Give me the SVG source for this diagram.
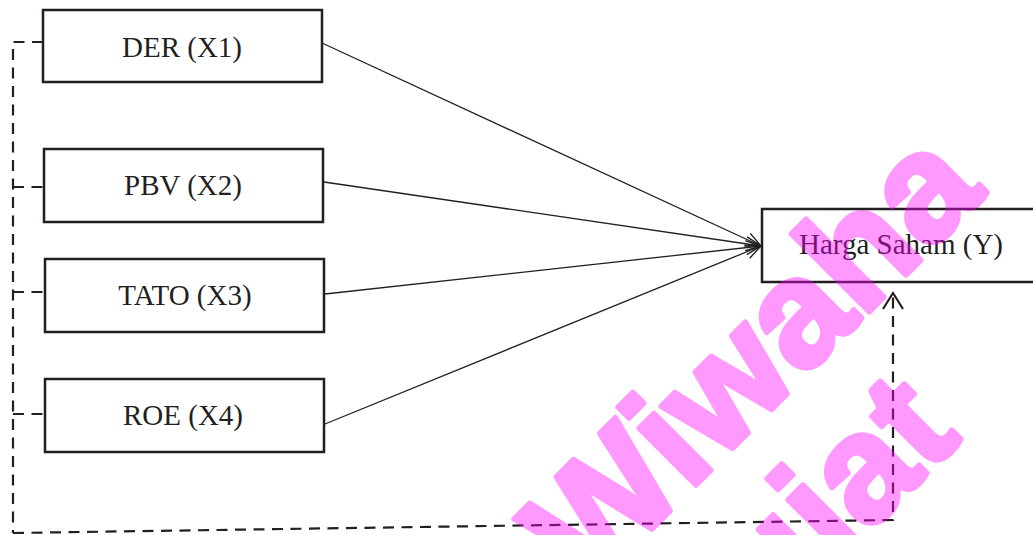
<svg xmlns="http://www.w3.org/2000/svg" width="1033" height="535" viewBox="0 0 1033 535">
  <style>
    .box { fill: #ffffff; stroke: #231f20; stroke-width: 2.5; }
    .lbl { font-family: "Liberation Serif", "Times New Roman", serif; font-size: 29px; fill: #231f20; text-anchor: middle; }
    .path { fill: none; stroke: #231f20; stroke-width: 1.3; }
    .dash { fill: none; stroke: #231f20; stroke-width: 2.2; stroke-dasharray: 11 7.5; }
    .wm { font-family: "Liberation Sans", Arial, sans-serif; font-weight: bold; font-size: 152px; fill: #ff00ff; stroke: #ff00ff; stroke-width: 5.5; stroke-linejoin: round; }
  </style>
  <defs>
    <marker id="open" markerUnits="userSpaceOnUse" markerWidth="20" markerHeight="20" refX="16" refY="8" orient="auto">
      <path d="M1,1 L16,8 L1,15" fill="none" stroke="#231f20" stroke-width="1.4"/>
    </marker>
    <marker id="openBig" markerUnits="userSpaceOnUse" markerWidth="24" markerHeight="26" refX="17" refY="11" orient="auto">
      <path d="M1,1 L17,11 L1,21" fill="none" stroke="#231f20" stroke-width="2.2"/>
    </marker>
  </defs>

  <g id="connectors">
    <line class="path" x1="322" y1="43" x2="761" y2="246" marker-end="url(#open)"/>
    <line class="path" x1="324" y1="182" x2="761" y2="246" marker-end="url(#open)"/>
    <line class="path" x1="325" y1="294" x2="761" y2="246" marker-end="url(#open)"/>
    <line class="path" x1="325" y1="424" x2="761" y2="246" marker-end="url(#open)"/>
    <!-- dashed feedback path from all X variables to Y -->
    <path class="dash" d="M43,42 H13 V533"/>
    <line class="dash" x1="13" y1="187" x2="44" y2="187"/>
    <line class="dash" x1="13" y1="292" x2="45" y2="292"/>
    <line class="dash" x1="13" y1="414" x2="45" y2="414"/>
    <path class="dash" d="M13,533 L893,520 V293" marker-end="url(#openBig)"/>
  </g>

  <g id="der">
    <rect class="box" x="43" y="10" width="279" height="72"/>
    <text class="lbl" x="182" y="57">DER (X1)</text>
  </g>
  <g id="pbv">
    <rect class="box" x="44" y="149" width="279" height="73"/>
    <text class="lbl" x="183" y="195">PBV (X2)</text>
  </g>
  <g id="tato">
    <rect class="box" x="45" y="259" width="279" height="73"/>
    <text class="lbl" x="185" y="305">TATO (X3)</text>
  </g>
  <g id="roe">
    <rect class="box" x="45" y="379" width="279" height="73"/>
    <text class="lbl" x="183" y="425">ROE (X4)</text>
  </g>
  <g id="harga">
    <rect class="box" x="762" y="209" width="290" height="73"/>
    <text class="lbl" x="901" y="254">Harga Saham (Y)</text>
  </g>

  <!-- translucent stamp over the diagram -->
  <g id="stamp" opacity="0.4" transform="translate(588,593) rotate(-45)">
    <text class="wm" x="0" y="0">Wiwaha</text>
    <text class="wm" x="104" y="156">uiat</text>
  </g>
</svg>
